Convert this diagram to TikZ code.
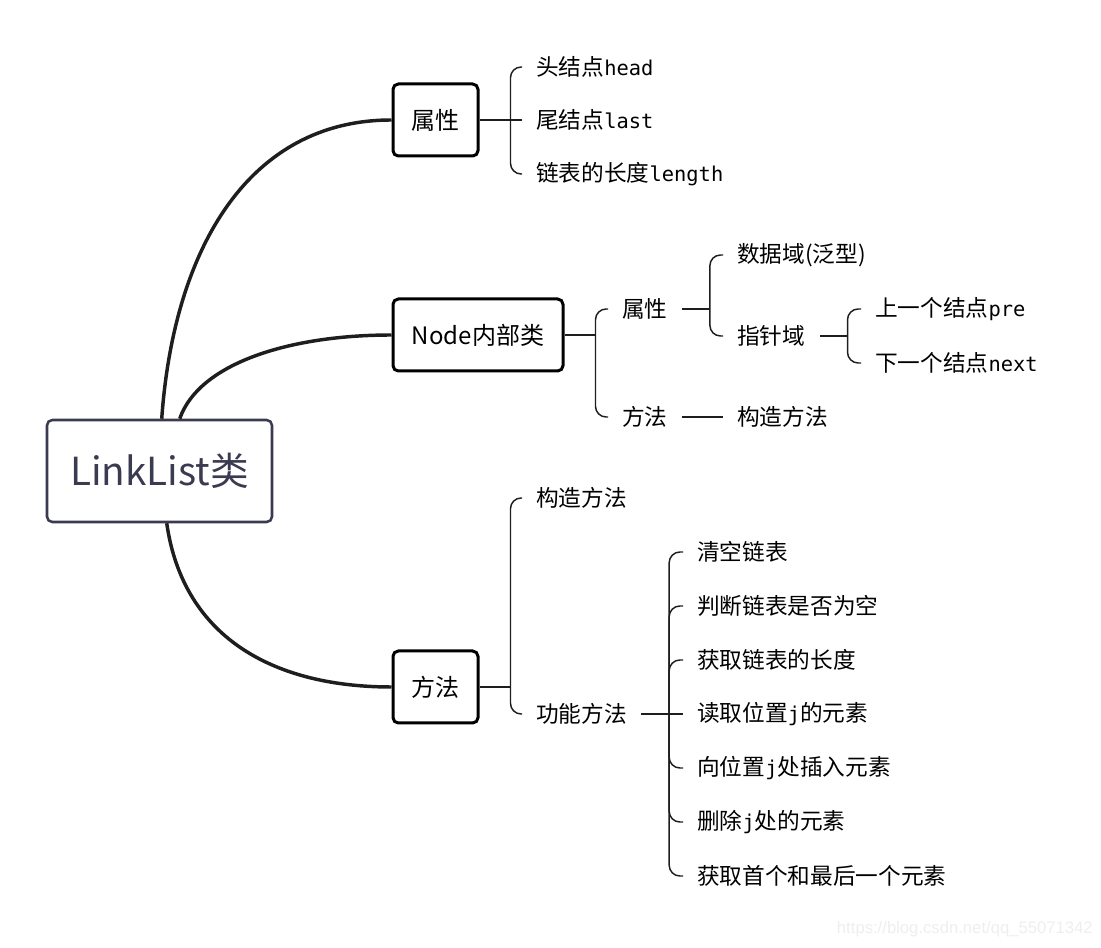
\documentclass[tikz,border=0pt]{standalone}
\usepackage{fontspec}
\newfontfamily\cjk{Noto Sans CJK SC}
\newfontfamily\mono[Scale=0.9]{DejaVu Sans Mono}
\newfontfamily\wmfont{Liberation Sans}
\usetikzlibrary{calc}
\definecolor{rootcol}{RGB}{58,58,80}
\definecolor{linecol}{RGB}{30,30,30}
\definecolor{wmcol}{RGB}{238,238,238}
\begin{document}
\begin{tikzpicture}[x=0.75pt,y=-0.75pt,
  rootbox/.style={draw=rootcol, text=rootcol, line width=1.9pt, rounded corners=4pt,
    font=\cjk\fontsize{29}{32}\selectfont, minimum width=168.75pt, minimum height=76.5pt, inner sep=0pt},
  topicbox/.style={draw=black, line width=2.25pt, rounded corners=4pt,
    font=\cjk\fontsize{18}{20}\selectfont, minimum height=54pt, inner sep=0pt},
  leaf/.style={anchor=west, inner xsep=10.5pt, inner ysep=2pt, font=\cjk\fontsize{17}{19}\selectfont},
  mainline/.style={line width=2.6pt, draw=linecol},
  thin/.style={line width=1.1pt, draw=linecol, rounded corners=8pt}
]
\useasboundingbox (0,0) rectangle (1101,948);

% root and topic boxes
\node[rootbox] (root) at (159.5,471) {LinkList类};
\node[topicbox, minimum width=63.75pt] (attr) at (435.5,120) {属性};
\node[topicbox, minimum width=127.5pt] (nodecls) at (478,335) {Node内部类};
\node[topicbox, minimum width=63.75pt] (meth) at (435.5,687) {方法};

% main curves
\draw[mainline] ([xshift=87pt]root.north west) .. controls ($(root.north west)+(128,-170)$) and ($(attr.west)+(-143,0)$) .. (attr.west);
\draw[mainline] ([xshift=100.5pt]root.north west) .. controls ($(root.north west)+(153,-55)$) and ($(nodecls.west)+(-103,0)$) .. (nodecls.west);
\draw[mainline] ([xshift=90.75pt]root.south west) .. controls ($(root.south west)+(138,118)$) and ($(meth.west)+(-113,0)$) .. (meth.west);

% branch 1: attributes
\node[leaf] (a1) at (522,67) {头结点{\mono head}};
\node[leaf] (a2) at (522,120) {尾结点{\mono last}};
\node[leaf] (a3) at (522,174) {链表的长度{\mono length}};
\draw[thin] (attr.east) -- ++(31,0) coordinate (ja);
\draw[thin] (ja) |- (a1.west);
\draw[thin] (ja) -- (a2.west);
\draw[thin] (ja) |- (a3.west);

% branch 2: Node inner class
\node[leaf] (n1) at (608,309) {属性};
\node[leaf] (n2) at (608,417) {方法};
\draw[thin] (nodecls.east) -- ++(31,0) coordinate (jn);
\draw[thin] (jn) |- (n1.west);
\draw[thin] (jn) |- (n2.west);

\node[leaf] (n11) at (723,255) {数据域(泛型)};
\node[leaf] (n12) at (723,336) {指针域};
\draw[thin] (n1.east) -- ++(28,0) coordinate (jn1);
\draw[thin] (jn1) |- (n11.west);
\draw[thin] (jn1) |- (n12.west);

\node[leaf] (n121) at (861,309) {上一个结点{\mono pre}};
\node[leaf] (n122) at (861,363) {下一个结点{\mono next}};
\draw[thin] (n12.east) -- ++(28,0) coordinate (jn12);
\draw[thin] (jn12) |- (n121.west);
\draw[thin] (jn12) |- (n122.west);

\node[leaf] (n21) at (723,417) {构造方法};
\draw[thin] (n2.east) -- (n21.west);

% branch 3: methods
\node[leaf] (m1) at (522,498) {构造方法};
\node[leaf] (m2) at (522,714) {功能方法};
\draw[thin] (meth.east) -- ++(31,0) coordinate (jm);
\draw[thin] (jm) |- (m1.west);
\draw[thin] (jm) |- (m2.west);

\node[leaf] (f1) at (683,552) {清空链表};
\node[leaf] (f2) at (683,606) {判断链表是否为空};
\node[leaf] (f3) at (683,660) {获取链表的长度};
\node[leaf] (f4) at (683,714) {读取位置{\mono j}的元素};
\node[leaf] (f5) at (683,768) {向位置{\mono j}处插入元素};
\node[leaf] (f6) at (683,822) {删除{\mono j}处的元素};
\node[leaf] (f7) at (683,876) {获取首个和最后一个元素};
\draw[thin] (m2.east) -- ++(28,0) coordinate (jf);
\draw[thin] (jf) |- (f1.west);
\draw[thin] (jf) |- (f2.west);
\draw[thin] (jf) |- (f3.west);
\draw[thin] (jf) -- (f4.west);
\draw[thin] (jf) |- (f5.west);
\draw[thin] (jf) |- (f6.west);
\draw[thin] (jf) |- (f7.west);

% watermark
\node[anchor=east, text=wmcol, font=\wmfont\fontsize{12.5}{14}\selectfont, inner sep=0pt] (wm) at (1093,929) {https://blog.csdn.net/qq\_55071342};
\end{tikzpicture}
\end{document}
